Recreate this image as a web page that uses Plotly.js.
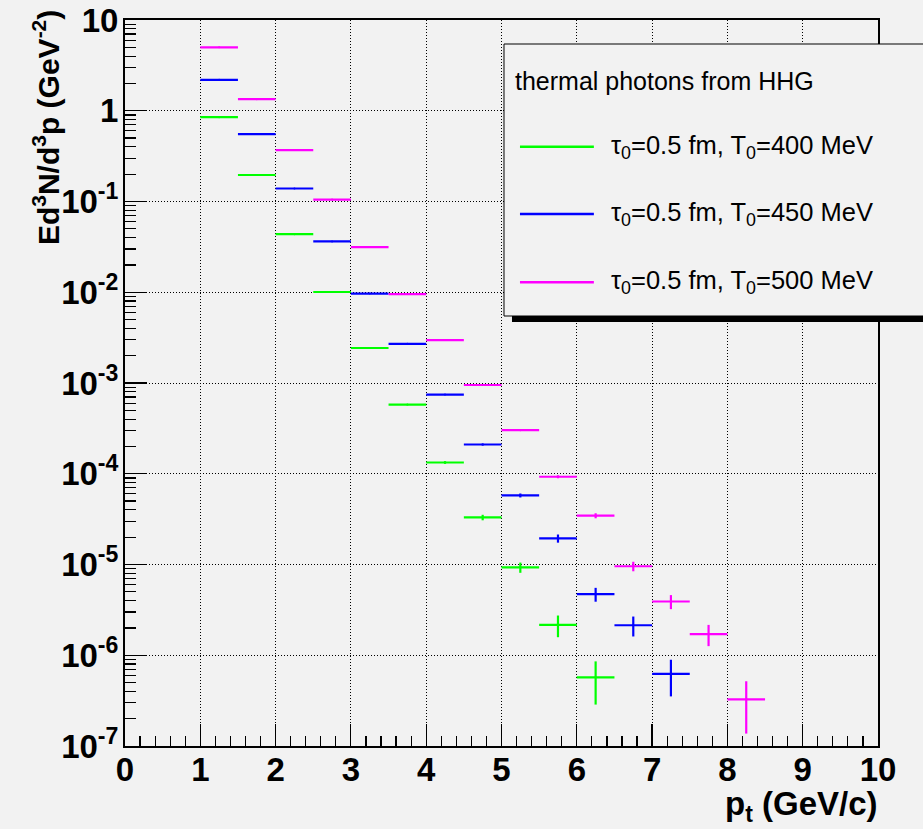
<!DOCTYPE html>
<html><head><meta charset="utf-8">
<script src="https://cdn.plot.ly/plotly-3.0.1.min.js"></script>
<style>html,body{margin:0;padding:0;background:#f2f2f2}</style>
</head><body><div id="chart" style="width:923px;height:829px"></div>
<script>
// bin centres (GeV/c), bin half-width 0.25
const ptGreen = [1.25,1.75,2.25,2.75,3.25,3.75,4.25,4.75,5.25,5.75,6.25];
const yGreen  = [0.85,0.196,0.0437,0.01007,0.00243,5.78e-4,1.33e-4,3.3e-5,9.3e-6,2.16e-6,5.71e-7];
const eGreen  = [2e-4,1e-4,6e-5,3.5e-5,1.8e-5,9e-6,4.5e-6,2.3e-6,1.2e-6,5.8e-7,2.85e-7];

const ptBlue = [1.25,1.75,2.25,2.75,3.25,3.75,4.25,4.75,5.25,5.75,6.25,6.75,7.25];
const yBlue  = [2.19,0.553,0.139,0.0363,0.00966,0.0027,7.45e-4,2.1e-4,5.77e-5,1.94e-5,4.71e-6,2.14e-6,6.22e-7];
const eBlue  = [4e-4,2e-4,1.1e-4,6e-5,3e-5,1.6e-5,9e-6,5e-6,2.9e-6,2.0e-6,8.2e-7,5.3e-7,2.7e-7];

const ptMag = [1.25,1.75,2.25,2.75,3.25,3.75,4.25,4.75,5.25,5.75,6.25,6.75,7.25,7.75,8.25];
const yMag  = [5.0,1.34,0.369,0.105,0.0315,0.00954,0.00297,9.5e-4,3.02e-4,9.27e-5,3.45e-5,9.57e-6,3.91e-6,1.71e-6,3.27e-7];
const eMag  = [8e-4,4e-4,2e-4,1.1e-4,6e-5,3.5e-5,2e-5,1.1e-5,6e-6,3.5e-6,2.2e-6,1.15e-6,6.9e-7,4.5e-7,1.9e-7];

const halfWidth = 0.25;
const seriesNames = ['τ<sub>0</sub>=0.5 fm, T<sub>0</sub>=400 MeV','τ<sub>0</sub>=0.5 fm, T<sub>0</sub>=450 MeV','τ<sub>0</sub>=0.5 fm, T<sub>0</sub>=500 MeV'];
const seriesColors = ['#00ff00','#0000ff','#ff00ff'];
const legendTitle = 'thermal photons from HHG';

const yTickVals = [1e-7,1e-6,1e-5,1e-4,1e-3,1e-2,1e-1,1,10];
const yTickText = ['10<sup>-7</sup>','10<sup>-6</sup>','10<sup>-5</sup>','10<sup>-4</sup>','10<sup>-3</sup>','10<sup>-2</sup>','10<sup>-1</sup>','1','10'];
const xTickVals = [0,1,2,3,4,5,6,7,8,9,10];

const yMinor = [];
for (let p = -7; p <= 0; p++) for (let d = 2; d <= 9; d++) yMinor.push(d * Math.pow(10, p));

function trace(x, y, e, i) {
  return {
    x: x, y: y, type: 'scatter', mode: 'markers', name: seriesNames[i], showlegend: false,
    marker: {color: seriesColors[i], size: 2},
    error_x: {type: 'constant', value: halfWidth, width: 0, thickness: 2.2, color: seriesColors[i]},
    error_y: {type: 'data', array: e, symmetric: true, width: 0, thickness: 2.2, color: seriesColors[i]},
    hoverinfo: 'skip'
  };
}
const data = [trace(ptGreen,yGreen,eGreen,0), trace(ptBlue,yBlue,eBlue,1), trace(ptMag,yMag,eMag,2)];

const FONT = '"Liberation Sans", Arial, Helvetica, sans-serif';
const W = 923, H = 829, L = 124.5, R = 44.5, T = 20, B = 83;
const pw = W - L - R, ph = H - T - B;
const px = v => (v - L) / pw;
const py = v => (H - B - v) / ph;

const shapes = [
  {type:'rect', xref:'paper', yref:'paper', x0:px(512), x1:px(940), y0:py(322), y1:py(315), fillcolor:'black', line:{width:0}, layer:'above'},
  {type:'rect', xref:'paper', yref:'paper', x0:px(504), x1:px(940), y0:py(316), y1:py(44), fillcolor:'#f2f2f2', line:{color:'black', width:1}, layer:'above'}
];
const legY = [146.7, 214, 282.3];
const annotations = [
  {xref:'paper', yref:'paper', x:px(513), y:py(81), xanchor:'left', yanchor:'middle', text:legendTitle, showarrow:false, font:{family:FONT, size:25, color:'black'}}
];
for (let i = 0; i < 3; i++) {
  shapes.push({type:'line', xref:'paper', yref:'paper', x0:px(520), x1:px(594), y0:py(legY[i]), y1:py(legY[i]), line:{color:seriesColors[i], width:2.5}, layer:'above'});
  annotations.push({xref:'paper', yref:'paper', x:px(609), y:py(legY[i]), xanchor:'left', yanchor:'middle', text:seriesNames[i], showarrow:false, font:{family:FONT, size:25.5, color:'black'}});
}
annotations.push({xref:'paper', yref:'paper', x:px(881), y:py(806), xanchor:'right', yanchor:'middle', text:'<b>p<sub>t</sub> (GeV/c)</b>', showarrow:false, font:{family:FONT, size:33, color:'black'}});
annotations.push({xref:'paper', yref:'paper', x:px(45), y:py(8), xanchor:'center', yanchor:'top', textangle:-90, text:'<b>Ed<sup>3</sup>N/d<sup>3</sup>p (GeV<sup>-2</sup>)</b>', showarrow:false, font:{family:FONT, size:30, color:'black'}});

const layout = {
  width: W, height: H,
  margin: {l: L, r: R, t: T, b: B, pad: 0},
  paper_bgcolor: '#f2f2f2', plot_bgcolor: '#f2f2f2',
  showlegend: false,
  font: {family: FONT, color: 'black'},
  xaxis: {
    range: [0, 10], tickmode: 'array', tickvals: xTickVals, ticktext: xTickVals.map(String),
    ticks: 'inside', ticklen: 22, tickwidth: 1.2, tickcolor: 'black',
    ticklabelstandoff: -7,
    showline: true, linecolor: 'black', linewidth: 2, mirror: true,
    showgrid: true, gridcolor: 'black', gridwidth: 1, griddash: '1px,2px',
    zeroline: false,
    tickfont: {family: FONT, size: 33, color: 'black', weight: 'bold'},
    minor: {dtick: 0.2, tick0: 0, ticks: 'inside', ticklen: 10, tickwidth: 1.2, tickcolor: 'black', showgrid: false}
  },
  yaxis: {
    type: 'log', range: [-7, 1], tickmode: 'array', tickvals: yTickVals, ticktext: yTickText,
    ticks: 'inside', ticklen: 22, tickwidth: 1.2, tickcolor: 'black',
    ticklabelstandoff: -2,
    showline: true, linecolor: 'black', linewidth: 2, mirror: true,
    showgrid: true, gridcolor: 'black', gridwidth: 1, griddash: '1px,2px',
    zeroline: false,
    tickfont: {family: FONT, size: 33, color: 'black', weight: 'bold'},
    minor: {tickmode: 'array', tickvals: yMinor, ticks: 'inside', ticklen: 11, tickwidth: 1.2, tickcolor: 'black', showgrid: false}
  },
  shapes: shapes,
  annotations: annotations
};
Plotly.newPlot('chart', data, layout, {displayModeBar: false, staticPlot: true});
</script>
</body></html>
